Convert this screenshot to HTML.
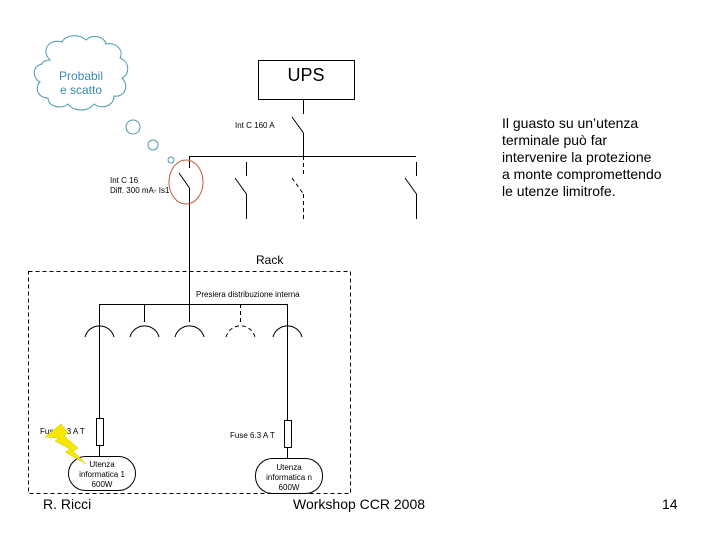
<!DOCTYPE html>
<html><head><meta charset="utf-8"><style>
html,body{margin:0;padding:0;background:#fff;width:720px;height:540px;overflow:hidden}
svg{display:block}
text{font-family:"Liberation Sans",sans-serif}
</style></head><body>
<svg width="720" height="540" viewBox="0 0 720 540" xmlns="http://www.w3.org/2000/svg">
<g fill="#fff" stroke="#4a9ab0" stroke-width="1">
<path d="M50,60 C40,50 50,38 62,42 C66,34 80,34 86,40 C92,34 104,36 106,44 C116,42 124,50 120,58 C130,62 130,74 122,78 C130,86 124,98 114,96 C114,106 102,110 94,104 C88,112 74,112 68,104 C60,110 48,106 48,98 C38,98 34,88 40,82 C32,78 32,66 42,64 C42,62 46,60 50,60 Z"/>
<circle cx="133" cy="127" r="7"/>
<circle cx="153" cy="145" r="5"/>
<circle cx="171" cy="160" r="3"/>
</g>
<text x="81" y="80" font-size="12" fill="#3a8ab0" text-anchor="middle">Probabil</text>
<text x="81" y="94" font-size="12" fill="#3a8ab0" text-anchor="middle">e scatto</text>
<rect x="258.5" y="60.5" width="96" height="39" fill="#fff" stroke="#000"/>
<text x="306" y="81" font-size="18" text-anchor="middle">UPS</text>
<g stroke="#000" stroke-width="1" fill="none">
<line x1="303.5" y1="100" x2="303.5" y2="114"/>
<line x1="292" y1="117" x2="303.5" y2="133"/>
<line x1="303.5" y1="133" x2="303.5" y2="156"/>
<line x1="189" y1="156.5" x2="416" y2="156.5"/>
<line x1="189.5" y1="156" x2="189.5" y2="168"/>
<line x1="179" y1="173" x2="189.5" y2="188"/>
<line x1="189.5" y1="188" x2="189.5" y2="304"/>
<line x1="246.5" y1="162" x2="246.5" y2="176"/>
<line x1="235" y1="178" x2="246.5" y2="194"/>
<line x1="246.5" y1="194" x2="246.5" y2="219"/>
<line x1="303.5" y1="156" x2="303.5" y2="176" stroke-dasharray="4,3"/>
<line x1="292" y1="178" x2="303.5" y2="194" stroke-dasharray="4,3"/>
<line x1="303.5" y1="194" x2="303.5" y2="219" stroke-dasharray="4,3"/>
<line x1="416.5" y1="162" x2="416.5" y2="176"/>
<line x1="405" y1="178" x2="416.5" y2="194"/>
<line x1="416.5" y1="194" x2="416.5" y2="219"/>
<rect x="28.5" y="271.5" width="322" height="222" stroke-dasharray="4,3"/>
<line x1="99" y1="304.5" x2="287" y2="304.5"/>
<line x1="99.5" y1="304" x2="99.5" y2="418"/>
<line x1="144.5" y1="304" x2="144.5" y2="322"/>
<line x1="189.5" y1="304" x2="189.5" y2="322"/>
<line x1="240.5" y1="304" x2="240.5" y2="322" stroke-dasharray="4,3"/>
<line x1="287.5" y1="304" x2="287.5" y2="420"/>
<path d="M85,337 A15,15 0 0 1 114,337"/>
<path d="M130,337 A15,15 0 0 1 159,337"/>
<path d="M175,337 A15,15 0 0 1 204,337"/>
<path d="M226,337 A15,15 0 0 1 255,337" stroke-dasharray="4,3"/>
<path d="M273,337 A15,15 0 0 1 302,337"/>
<rect x="96.5" y="418.5" width="7" height="27"/>
<line x1="99.5" y1="445" x2="99.5" y2="456"/>
<rect x="284.5" y="420.5" width="7" height="27"/>
<line x1="287.5" y1="447" x2="287.5" y2="458"/>
<rect x="68.5" y="456.5" width="67" height="34" rx="17" fill="#fff"/>
<rect x="255.5" y="458.5" width="67" height="35" rx="17" fill="#fff"/>
</g>
<ellipse cx="186" cy="182" rx="17" ry="22" fill="none" stroke="#c05a3a" stroke-width="1"/>
<text x="235" y="128" font-size="8">Int C 160 A</text>
<text x="110" y="183" font-size="8">Int C 16</text>
<text x="110" y="193" font-size="8">Diff. 300 mA- Is1</text>
<text x="256" y="264" font-size="12">Rack</text>
<text x="196" y="297" font-size="8">Presiera distribuzione interna</text>
<text x="40" y="434" font-size="8">Fuse 6.3 A T</text>
<text x="230" y="438" font-size="8">Fuse 6.3 A T</text>
<polygon points="45,437 61,424 68,433 64,436 78,448 73,451 86,464 65,452 70,449 55,441 59,438" fill="#f4e800" stroke="#d0c000" stroke-width="0.5"/>
<text x="102" y="467" font-size="8" text-anchor="middle">Utenza</text>
<text x="102" y="477" font-size="8" text-anchor="middle">informatica 1</text>
<text x="102" y="487" font-size="8" text-anchor="middle">600W</text>
<text x="289" y="470" font-size="8" text-anchor="middle">Utenza</text>
<text x="289" y="480" font-size="8" text-anchor="middle">informatica n</text>
<text x="289" y="490" font-size="8" text-anchor="middle">600W</text>
<g font-size="14">
<text x="502" y="128">Il guasto su un’utenza</text>
<text x="502" y="145">terminale può far</text>
<text x="502" y="162">intervenire la protezione</text>
<text x="502" y="179">a monte compromettendo</text>
<text x="502" y="196">le utenze limitrofe.</text>
<text x="43" y="509">R. Ricci</text>
<text x="293" y="509">Workshop CCR 2008</text>
<text x="662" y="509">14</text>
</g>
</svg>
</body></html>
